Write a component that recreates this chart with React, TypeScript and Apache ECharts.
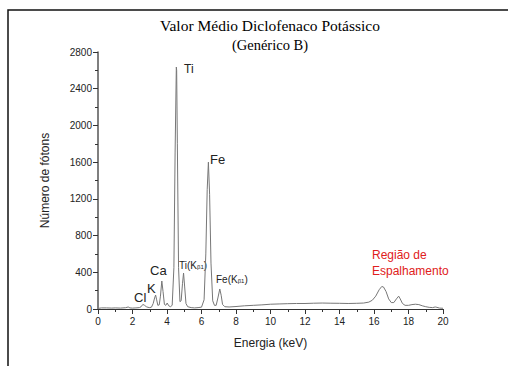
import React, { useEffect, useRef } from "react";
import * as echarts from "echarts";

const energy = [0.05,0.2,0.5,0.8,1.0,1.3,1.6,1.75,1.85,2.0,2.2,2.4,2.5,2.6,2.7,2.8,2.9,3.0,3.1,3.2,3.28,3.34,3.4,3.47,3.55,3.62,3.7,3.77,3.85,3.93,4.01,4.1,4.2,4.3,4.4,4.47,4.54,4.56,4.6,4.67,4.75,4.82,4.9,4.96,5.02,5.1,5.2,5.4,5.6,5.8,6.0,6.15,6.25,6.33,6.4,6.47,6.55,6.65,6.75,6.85,6.95,7.06,7.14,7.22,7.35,7.6,8.0,8.5,9.0,9.5,10,10.5,11,11.5,12,12.5,13,13.5,14,14.5,15,15.4,15.7,15.9,16.1,16.3,16.45,16.55,16.7,16.85,17.0,17.15,17.3,17.43,17.52,17.65,17.8,18.0,18.2,18.4,18.6,18.8,19.0,19.2,19.4,19.55,19.65,19.8,20];
const counts = [8,12,12,10,12,10,14,22,12,10,12,15,25,50,40,25,18,15,20,60,120,152,100,40,45,140,305,190,50,40,65,35,25,40,450,1700,2636,2600,1800,450,80,90,280,392,250,60,25,15,12,15,20,100,600,1300,1600,1250,500,90,40,40,120,218,150,50,25,22,27,35,40,45,52,55,58,60,60,63,65,63,62,60,62,65,75,95,140,210,245,240,190,110,70,70,110,140,110,60,40,40,48,52,48,35,25,18,15,22,18,10,8];

const yTicks = [0, 400, 800, 1200, 1600, 2000, 2400, 2800];
const xTicks = [0, 2, 4, 6, 8, 10, 12, 14, 16, 18, 20];

const titleLines = ["Valor Médio Diclofenaco Potássico", "(Genérico B)"];

const SANS = "'Liberation Sans', Arial, sans-serif";
const SERIF = "'Liberation Serif', 'Times New Roman', serif";

export default function App() {
  const ref = useRef<HTMLDivElement>(null);
  useEffect(() => {
    const chart = echarts.init(ref.current!, null, { renderer: "svg" });
    const data = energy.map((e, i) => [e, counts[i]]);
    const lab = (text: string, x: number, y: number, extra: any = {}) => ({
      type: "text",
      x,
      y,
      style: {
        text,
        fill: "#222",
        font: "12px " + SANS,
        textVerticalAlign: "middle",
        ...extra,
      },
    });
    const subLab = (main: string, x: number, y: number) => ({
      type: "text",
      x,
      y,
      style: {
        text: "{m|" + main + "(K}{s|β1}{m|)}",
        fill: "#222",
        textVerticalAlign: "middle",
        rich: {
          m: { fontSize: 10, fontFamily: SANS, color: "#222", padding: [0, 0, 4, 0] },
          s: { fontSize: 6, fontFamily: SANS, color: "#222" },
        },
      },
    });
    chart.setOption({
      animation: false,
      title: {
        text: "{a|" + titleLines[0] + "}\n{b|" + titleLines[1] + "}",
        left: 265,
        textAlign: "center",
        top: 11,
        textStyle: {
          fontWeight: "normal",
          rich: {
            a: { fontFamily: SERIF, fontSize: 15.5, fontWeight: "normal", color: "#000", lineHeight: 19 },
            b: { fontFamily: SERIF, fontSize: 14.5, fontWeight: "normal", color: "#000", lineHeight: 19 },
          },
        },
      },
      grid: { left: 98, right: 65, top: 52, bottom: 57 },
      xAxis: {
        type: "value",
        min: 0,
        max: 20,
        interval: 2,
        name: "Energia (keV)",
        nameLocation: "middle",
        nameGap: 28,
        nameTextStyle: { fontSize: 12, color: "#222", fontFamily: SANS },
        axisLine: { lineStyle: { color: "#333", width: 1 } },
        axisTick: { show: true, length: 5, lineStyle: { color: "#333" } },
        minorTick: { show: true, splitNumber: 2, length: 3, lineStyle: { color: "#333" } },
        axisLabel: { fontSize: 10, color: "#222", margin: 7, fontFamily: SANS, formatter: (v: number) => String(v) },
        splitLine: { show: false },
      },
      yAxis: {
        type: "value",
        min: 0,
        max: 2800,
        interval: 400,
        name: "Número de fótons",
        nameLocation: "middle",
        nameGap: 47,
        nameTextStyle: { fontSize: 12, color: "#222", fontFamily: SANS },
        axisLine: { show: true, lineStyle: { color: "#555", width: 1.5 } },
        axisTick: { show: true, length: 5, lineStyle: { color: "#333" } },
        minorTick: { show: true, splitNumber: 2, length: 3, lineStyle: { color: "#333" } },
        axisLabel: { fontSize: 10, color: "#222", margin: 6, fontFamily: SANS, formatter: (v: number) => String(v) },
        splitLine: { show: false },
      },
      series: [
        {
          type: "line",
          data,
          showSymbol: false,
          symbol: "none",
          lineStyle: { color: "#777", width: 1 },
        },
      ],
      graphic: [
        { type: "rect", shape: { x: 8, y: 10, width: 520, height: 400 }, style: { fill: "none", stroke: "#111", lineWidth: 1.5 }, silent: true },
        lab("Ti", 184, 69),
        lab("Fe", 210, 159, { font: "13px " + SANS }),
        lab("Ca", 150, 270, { font: "13px " + SANS }),
        lab("K", 147, 288, { font: "13px " + SANS }),
        lab("Cl", 134, 297, { font: "13px " + SANS }),
        subLab("Ti", 179, 267),
        subLab("Fe", 216, 281),
        lab("Região de", 372, 255, { fill: "#e02020" }),
        lab("Espalhamento", 372, 271, { fill: "#e02020" }),
      ],
    });
    return () => chart.dispose();
  }, []);
  return <div ref={ref} style={{ position: "absolute", left: 0, top: 0, width: 508, height: 366, background: "#fff" }} />;
}
